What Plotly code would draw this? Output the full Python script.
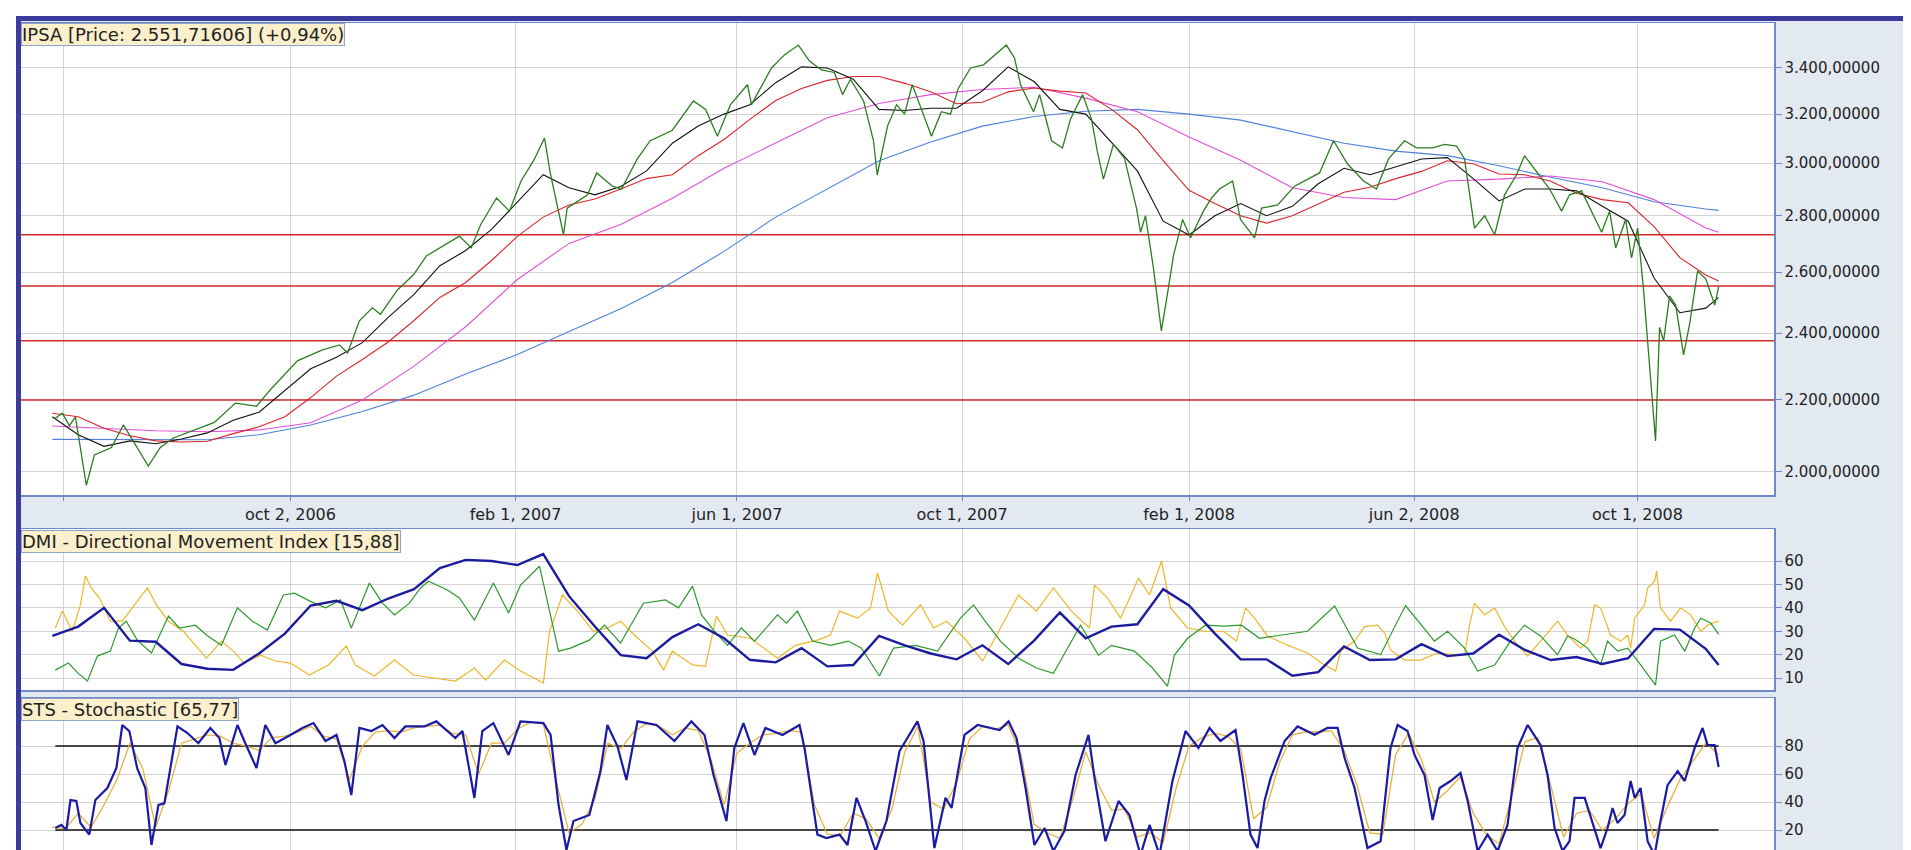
import math
import pandas as pd
import plotly.graph_objects as go

W, H = 1911, 850

# ---------------- data ----------------
start_date = "2006-05-26"          # day 0 of the day-offset arrays
last_date = "2008-11-14"
x_range = ["2006-05-09", "2008-12-14"]

# IPSA close (day offset from start_date, value)
price_day = [1.6, 5.4, 9.2, 12.5, 18.4, 22.8, 32, 38.5, 52, 58.5,
             65.6, 77, 87.8, 99.2, 110.6, 119, 132.8, 146, 155.6, 160,
             166.4, 173.4, 177.8, 187, 195.7, 202.7, 211.4, 220.6, 227, 232,
             240.7, 247.7, 254, 261, 266.7, 270, 277, 279, 290, 295,
             303.5, 308.4, 317, 324, 336, 347.4, 354, 360.4, 367.5, 376.7,
             378.9, 389.7, 396.7, 404.3, 410.3, 416.8, 423.8, 428.2, 432.5, 439.6,
             445, 447, 452.6, 457.5, 461.8, 466, 471, 476.4, 481.8, 486.7,
             491, 497.6, 504.6, 511, 517, 521.4, 524.7, 531.7, 535, 541.5,
             547.4, 551.8, 558.3, 563.1, 566.4, 569.6, 575, 581, 587.5, 589.7,
             592.4, 596.7, 601, 604.3, 607.6, 612.5, 616.8, 623.8, 628.2, 632.5,
             639.6, 643.9, 651.5, 655.3, 664, 673.2, 686.7, 694.3, 701.9, 710.6,
             717.6, 724.1, 732.8, 739.3, 748, 754.5, 761, 765.3, 770.7, 776.2,
             781.6, 787, 793.5, 797.8, 804.9, 811.4, 817.9, 822.2, 828.7, 835.2,
             839.6, 843.9, 847.2, 852.6, 855.8, 859.1, 862.3, 864.5, 866.7, 868.8,
             871, 873.2, 876.4, 879.7, 884, 887.3, 891.6, 896, 900.9, 903]
price_val = [2146, 2160, 2125, 2150, 1965, 2045, 2065, 2127, 2015, 2065,
             2091, 2113, 2134, 2189, 2180, 2233, 2314, 2347, 2363, 2338,
             2439, 2481, 2460, 2540, 2591, 2656, 2691, 2726, 2684, 2766,
             2866, 2817, 2931, 3013, 3101, 2955, 2731, 2828, 2878, 2962,
             2911, 2900, 3017, 3090, 3133, 3256, 3220, 3108, 3240, 3326,
             3240, 3400, 3459, 3504, 3431, 3391, 3380, 3283, 3350, 3256,
             3090, 2954, 3150, 3240, 3200, 3326, 3220, 3108, 3210, 3200,
             3311, 3400, 3414, 3459, 3504, 3445, 3326, 3210, 3283, 3090,
             3061, 3180, 3283, 3180, 3043, 2938, 3075, 3020, 2828, 2740,
             2800, 2614, 2407, 2527, 2659, 2786, 2720, 2817, 2866, 2900,
             2931, 2786, 2720, 2828, 2840, 2911, 2962, 3090, 2997, 2931,
             2900, 3017, 3090, 3061, 3061, 3075, 3068, 3017, 2755, 2800,
             2731, 2878, 2955, 3030, 2962, 2900, 2817, 2878, 2893, 2800,
             2740, 2817, 2684, 2786, 2649, 2755, 2540, 2375, 2215, 2083,
             2418, 2375, 2520, 2490, 2332, 2430, 2604, 2577, 2490, 2551]

# moving averages (every 14 days / every 28 days from start_date, plus last_date)
ma_fast = [2150, 2100, 2068, 2083, 2075, 2088, 2105, 2140, 2163, 2225,
           2290, 2325, 2370, 2450, 2525, 2622, 2675, 2750, 2850, 2955,
           2905, 2878, 2910, 2970, 3080, 3150, 3200, 3240, 3335, 3405,
           3400, 3350, 3220, 3215, 3225, 3225, 3300, 3405, 3340, 3220,
           3200, 3085, 2970, 2780, 2730, 2800, 2845, 2800, 2835, 2920,
           2980, 2955, 2985, 3017, 3022, 2940, 2855, 2900, 2900, 2893,
           2835, 2780, 2580, 2465, 2480, 2515]
ma_mid = [2160, 2150, 2118, 2097, 2083, 2080, 2082, 2103, 2122, 2150,
          2205, 2268, 2318, 2372, 2440, 2515, 2565, 2640, 2725, 2795,
          2840, 2862, 2900, 2940, 2955, 3030, 3095, 3178, 3258, 3310,
          3345, 3362, 3362, 3332, 3295, 3244, 3250, 3295, 3312, 3298,
          3290, 3220, 3135, 3010, 2895, 2845, 2800, 2773, 2800, 2845,
          2888, 2907, 2940, 2968, 3010, 2998, 2958, 2955, 2930, 2884,
          2860, 2848, 2760, 2650, 2590, 2570]
ma_slow = [2124, 2117, 2111, 2108, 2113, 2133, 2198, 2298, 2420, 2575,
           2700, 2768, 2865, 2980, 3080, 3185, 3245, 3283, 3305, 3315,
           3268, 3210, 3105, 3012, 2905, 2868, 2860, 2931, 2938, 2950,
           2928, 2860, 2755, 2740]
ma_long = [2087, 2086, 2085, 2086, 2100, 2127, 2165, 2212, 2274, 2333,
           2405, 2478, 2565, 2672, 2795, 2900, 3010, 3085, 3150, 3190,
           3212, 3220, 3200, 3175, 3128, 3080, 3048, 3030, 2990, 2945,
           2905, 2852, 2825, 2820]

# DMI (ADX every 14 days; +DI / -DI at day offsets)
adx = [28, 32, 40, 26, 25.5, 16, 14, 13.5, 20.5, 29,
       41, 43, 39, 44, 48, 57, 60.5, 60, 58.3, 63,
       45, 32, 19.8, 18.5, 27.5, 33, 27, 17.8, 16.7, 22.8,
       15, 15.6, 28, 24, 20.5, 18, 24, 16, 26, 38,
       27, 32, 33, 48, 41, 29, 18, 18, 11, 12.5,
       23.5, 17.7, 18, 24.5, 19.4, 20.5, 28.5, 22, 17.7, 19,
       16, 18.5, 31, 30.7, 22.5, 15.6]

dip_day = [1.6, 8.7, 14, 19, 24.4, 31.4, 35.8, 40, 46, 53.7,
           62.9, 68.8, 77.5, 83.5, 91.6, 100.3, 108.4, 116.5, 125.2, 131.2,
           139.3, 148, 156.1, 162, 171.8, 178.9, 185.4, 193.5, 199.5, 203.8,
           214.1, 220.6, 228.7, 239, 247.2, 253.7, 264, 270, 274.3, 280.8,
           291, 299.2, 307.9, 320.3, 332.2, 339.3, 346.9, 351.8, 358.8, 365.9,
           373.4, 380.5, 393, 397.8, 403.8, 411.9, 421.7, 431.4, 438.5, 448.2,
           455.8, 467.8, 479.7, 492.1, 499.2, 505.1, 513.8, 523.6, 533.3, 542.5,
           557.2, 566.9, 574, 586.4, 596.2, 604.3, 608.1, 615.2, 624.9, 634.7,
           644.4, 654.2, 665.6, 680.2, 694.9, 707.3, 719.8, 733.3, 749, 756.1,
           765.3, 772.4, 781.6, 790.2, 797.8, 806.5, 815.7, 821.1, 824.9, 832,
           839, 842.8, 848.2, 853.7, 859.1, 868.8, 871.5, 879.1, 884.6, 890,
           893.3, 898.7, 903]
dip_val = [13.4, 16.4, 12, 8.7, 19.4, 21.5, 31.4, 34.3, 26.2, 20.7,
           36.5, 31.4, 32.6, 28.4, 24, 40, 34.3, 30.5, 45.5, 46.3,
           43, 40, 43.4, 31.4, 50.6, 42, 37, 42, 48.5, 51.4,
           47.6, 44.2, 34.8, 50.6, 37.8, 49.7, 57.8, 37, 21.5, 22.8,
           26.2, 32.6, 25, 42, 43.4, 40, 49.3, 37, 30, 24,
           31.4, 25.8, 37, 33.5, 38.6, 25.8, 24, 25.8, 22.8, 10.9,
           22.8, 24, 21.5, 35.6, 41.3, 34.8, 25.8, 18.5, 14.3, 12,
           32.6, 19.8, 24, 21.5, 14.3, 6.6, 19.8, 27, 32.6, 32.2,
           32.6, 27, 28.4, 30, 40.8, 22.8, 20, 41, 25.8, 30,
           22.8, 13, 15.6, 25.8, 32.6, 28, 20, 28, 26.7, 22.8,
           15.6, 25.8, 21.5, 22.8, 17.3, 7, 25.8, 28.4, 21.5, 31.4,
           35.6, 33.5, 28.8]

dim_day = [1.6, 5.4, 10.8, 15.2, 17.9, 21.1, 25.5, 31.4, 37.9, 46,
           51.5, 56.4, 62.9, 71, 83.5, 91.6, 98.1, 104, 112.7, 120.9,
           129, 139.3, 149.6, 159.3, 164.2, 174.5, 185.4, 195.7, 206, 218.4,
           228.7, 234.7, 245, 253.7, 266.1, 269.4, 272.1, 276.4, 284.6, 293.2,
           300.8, 307.9, 315.4, 325.2, 331.2, 336, 346.9, 353.9, 359.9, 365.9,
           378.3, 393, 402.7, 414.6, 421.7, 426.6, 436.3, 443.4, 447.2, 453.1,
           460.7, 470.5, 477.5, 484.6, 494.3, 504.1, 513.8, 523.6, 533.3, 542.5,
           552.3, 562, 564.8, 571.8, 578.9, 588.6, 594.6, 601.1, 606, 615.2,
           624.9, 634.7, 641.7, 646.6, 651.5, 658.5, 669.4, 680.2, 689.4, 695.4,
           698.1, 705.7, 711.1, 718.2, 722, 725.2, 732.8, 741.5, 750.7, 759.9,
           765.3, 768, 770.7, 776.2, 781.6, 787, 792.4, 799.5, 806.5, 815.7,
           821.1, 828.2, 832, 835.8, 839, 844.4, 849.9, 853.7, 855.3, 857.5,
           862.9, 864.5, 868.3, 869.4, 871.5, 876.9, 882.4, 887.8, 893.3, 897,
           902.4, 903]
dim_val = [31.4, 38.6, 30, 41.3, 53.6, 48.5, 44.2, 34.3, 34.3, 43,
           48.5, 41.3, 34.3, 30, 18.5, 25.8, 21.5, 16.4, 19.8, 17.3,
           16.4, 11.3, 15.6, 23.7, 15.6, 10.9, 17.7, 11.3, 10, 8.7,
           14.3, 9.1, 17.7, 13, 7.9, 30, 35.6, 45.5, 38.6, 30,
           31.4, 34.3, 28.4, 21.5, 13.4, 21.5, 15.6, 15, 36.5, 28.4,
           27, 18.5, 24, 26.2, 28.4, 38.6, 35.6, 40, 54.9, 38.6,
           32.6, 41.3, 31.4, 34.3, 27, 17.3, 31.4, 45.5, 38.6, 48.5,
           38.6, 31.4, 49.7, 44.2, 35.6, 52.7, 45.5, 60, 40, 31.4,
           30, 30, 25.8, 40, 35.6, 28, 24, 20.7, 15.6, 13,
           21.5, 25.8, 32, 32.6, 29.2, 22, 17.7, 17.7, 20.7, 20,
           20, 32.6, 42, 37, 40, 32, 25.8, 19.4, 25.8, 34.3,
           28.4, 22.8, 25.8, 41.3, 40, 28.4, 25.8, 28.4, 22.8, 35.6,
           41.3, 48.5, 51.4, 55.7, 40, 34.3, 40, 37, 30, 32.6,
           34.3, 34]

# Stochastic %K at day offsets, %D weekly (every 7 days)
stk_day = [1.6, 4.9, 7.6, 9.8, 13, 15.2, 20, 23.3, 29.8, 34.7,
           37.9, 41.7, 46, 50.4, 53.7, 57.5, 60.7, 65, 67.8, 73.2,
           79.1, 85.6, 90.5, 93.8, 100.3, 104, 110.6, 115.4, 120.9, 129,
           135.5, 141.5, 148, 154, 158.3, 162, 166.4, 172.9, 178.9, 185.4,
           191.3, 201.6, 208.1, 218.4, 222.2, 228.7, 233, 239, 247.2, 253.7,
           266.1, 270, 274.3, 278.6, 282.4, 291, 297, 300.8, 306.2, 311.1,
           317.1, 327.4, 337.1, 346.3, 353.4, 358.3, 365.3, 369.6, 374.5, 380.5,
           386.4, 395.7, 404.9, 407.6, 414.6, 419.5, 426.6, 430.9, 435.8, 440.7,
           446.1, 452, 459.1, 468.8, 472.1, 478, 484, 487.3, 494.3, 501.4,
           513.3, 518.2, 522.5, 527.4, 532.2, 537.7, 542.5, 548.5, 554.5, 561.5,
           564.8, 570.7, 577.8, 583.7, 589.7, 594.6, 600, 607, 614.1, 621.1,
           627.1, 633, 641.2, 645, 649.3, 653.1, 656.9, 660.2, 667.8, 674.8,
           684, 691, 696.5, 700.3, 705.7, 712.7, 719.8, 725.2, 729, 734.4,
           738.2, 743.6, 748, 751.8, 757.7, 763.1, 767, 772.4, 777.8, 783.2,
           788.6, 794, 799.5, 806.5, 810.3, 814.1, 818.4, 822.2, 824.9, 830.4,
           835.8, 839, 842.8, 845.5, 848.2, 852, 855.3, 857.5, 860.7, 864.5,
           868.3, 871.5, 875.3, 880.8, 884.6, 890, 894.3, 897, 900.8, 903]
stk_val = [21.4, 23.6, 20, 41.4, 40.7, 25, 16.7, 41.4, 50, 64.3,
           95, 90.7, 64, 50, 9.3, 38, 39, 73.6, 94, 89.3,
           82, 92.9, 85.7, 66.4, 95, 83.6, 64.3, 95, 82, 87.9,
           92.9, 96.4, 83.6, 87.9, 69, 45, 92.9, 90.7, 95, 85.7,
           94, 94, 97.6, 85.7, 90.7, 42.9, 90.7, 96.4, 73.6, 97.6,
           96.4, 87.9, 38, 5.7, 26.4, 30.7, 61.9, 95, 80, 55.7,
           97.6, 95, 83.6, 97.6, 87.9, 59.3, 26.4, 78.6, 96.4, 73.6,
           92.9, 87.9, 95, 78.6, 16.7, 14.3, 16.7, 9.3, 43, 26.4,
           5, 26.4, 76.4, 97.6, 83.6, 7.1, 43, 35.7, 87.9, 95,
           91.4, 97.6, 85.7, 50, 9.3, 21.4, 5, 19.3, 59.3, 87.9,
           57.1, 12, 40.7, 30.7, 2.1, 23.6, 2, 55, 90.7, 78.6,
           92.9, 83.6, 91.4, 59.3, 16.7, 7.1, 40.7, 57, 83.6, 94,
           88, 92.9, 92.9, 71.4, 50, 7.1, 12, 78.6, 95, 90.7,
           73.6, 59.3, 27.1, 50, 55, 60.7, 40.7, 5, 16.7, 5,
           23.6, 78.6, 95, 80.7, 59.3, 21.4, 5, 12, 43, 43,
           21.4, 7, 21.4, 35.7, 25, 30.7, 55, 43, 50, 12,
           2, 26.4, 52, 62, 55, 78.6, 92.9, 80.7, 80.7, 65]
std_val = [22, 21, 32, 22, 38, 56, 82, 64, 22, 48,
           82, 85, 88, 87, 82, 80, 77, 86, 87, 90,
           94, 87, 85, 56, 80, 90, 91, 90, 93, 94,
           95, 89, 88, 60, 82, 82, 92, 97, 96, 55,
           18, 24, 42, 82, 78, 90, 96, 94, 88, 93,
           91, 70, 38, 75, 82, 88, 89, 91, 90, 38,
           17, 16, 32, 28, 14, 35, 76, 94, 40, 35,
           54, 85, 94, 92, 95, 74, 24, 18, 14, 42,
           76, 52, 34, 35, 15, 18, 11, 50, 80, 86,
           89, 87, 78, 28, 36, 68, 88, 90, 90, 91,
           77, 52, 18, 17, 74, 89, 70, 40, 48, 58,
           32, 17, 10, 45, 83, 86, 52, 15, 32, 34,
           20, 28, 39, 46, 14, 36, 56, 69, 82, 74]

price_levels = [2731, 2553, 2376, 2198]
sts_levels = [80, 20]

date_ticks = ["2006-06-01", "2006-10-02", "2007-02-01", "2007-06-01",
              "2007-10-01", "2008-02-01", "2008-06-02", "2008-10-01"]
date_labels = ["", "oct 2, 2006", "feb 1, 2007", "jun 1, 2007",
               "oct 1, 2007", "feb 1, 2008", "jun 2, 2008", "oct 1, 2008"]
price_ticks = [2000, 2200, 2400, 2600, 2800, 3000, 3200, 3400]
price_labels = ["2.000,00000", "2.200,00000", "2.400,00000", "2.600,00000",
                "2.800,00000", "3.000,00000", "3.200,00000", "3.400,00000"]
dmi_ticks = [10, 20, 30, 40, 50, 60]
sts_ticks = [20, 40, 60, 80]

title_main = "IPSA [Price: 2.551,71606] (+0,94%)"
title_dmi = "DMI - Directional Movement Index [15,88]"
title_sts = "STS - Stochastic [65,77]"

# ---------------- dates ----------------
t0 = pd.Timestamp(start_date)
def days_to_dates(days):
    return list(t0 + pd.to_timedelta(days, unit="D"))

d_price = days_to_dates(price_day)
d_dip = days_to_dates(dip_day)
d_dim = days_to_dates(dim_day)
d_stk = days_to_dates(stk_day)
d_week = list(pd.date_range(start_date, periods=len(std_val), freq="7D"))
d_2w = list(pd.date_range(start_date, periods=len(ma_fast) - 1, freq="14D")) + [pd.Timestamp(last_date)]
d_4w = list(pd.date_range(start_date, periods=len(ma_slow) - 1, freq="28D")) + [pd.Timestamp(last_date)]
d_span = [pd.Timestamp(x_range[0]), pd.Timestamp(x_range[1])]
d_data = [d_price[0], d_price[-1]]

# ---------------- geometry (pixels) ----------------
PX_L, PX_R = 13, 1766
MAIN_T, MAIN_B = 15, 487
DMI_T, DMI_B = 521, 682
STS_T, STS_B = 690, 850

def fy(p):
    return (H - p) / H

xdom = [PX_L / W, PX_R / W]

FONT = "DejaVu Sans"
GRID = "#d3d3d3"
AXLINE = "#7088c8"
TXT = "#222222"

fig = go.Figure()

def add(x, y, color, width, xa, ya):
    fig.add_trace(go.Scatter(x=x, y=y, mode="lines",
                             line=dict(color=color, width=width),
                             xaxis=xa, yaxis=ya, hoverinfo="skip",
                             showlegend=False))

# main panel
for lv in price_levels:
    add(d_span, [lv, lv], "#d12b2b", 1.6, "x", "y")
add(d_4w, ma_long, "#4f80dc", 1.1, "x", "y")
add(d_4w, ma_slow, "#e24fd6", 1.1, "x", "y")
add(d_2w, ma_mid, "#d8252b", 1.1, "x", "y")
add(d_2w, ma_fast, "#111111", 1.1, "x", "y")
add(d_price, price_val, "#2c7d1f", 1.3, "x", "y")

# DMI panel
add(d_dim, dim_val, "#efb628", 1.2, "x2", "y2")
add(d_dip, dip_val, "#2e9a2e", 1.2, "x2", "y2")
add(d_2w, adx, "#1c1c9e", 2.4, "x2", "y2")

# STS panel
for lv in sts_levels:
    add(d_data, [lv, lv], "#111111", 1.4, "x3", "y3")
add(d_week, std_val, "#e8b040", 1.3, "x3", "y3")
add(d_stk, stk_val, "#1a1aa6", 2.2, "x3", "y3")

xcommon = dict(range=x_range, type="date", tickvals=date_ticks, showgrid=True,
               gridcolor=GRID, gridwidth=1, showline=True, mirror=True,
               linecolor=AXLINE, linewidth=1.5, zeroline=False, domain=xdom,
               fixedrange=True)
ycommon = dict(side="right", showgrid=True, gridcolor=GRID, gridwidth=1,
               showline=True, mirror=True, linecolor=AXLINE, linewidth=1.5,
               ticks="outside", ticklen=6, tickcolor=AXLINE, zeroline=False,
               tickfont=dict(family=FONT, size=15, color=TXT), fixedrange=True)

fig.update_layout(
    width=W, height=H, autosize=False,
    margin=dict(l=0, r=0, t=0, b=0, pad=0),
    paper_bgcolor="#e2e9f1", plot_bgcolor="#ffffff",
    showlegend=False,
    xaxis=dict(**xcommon, anchor="y", ticktext=date_labels, ticks="outside",
               ticklen=4, tickcolor=AXLINE,
               tickfont=dict(family=FONT, size=16, color=TXT)),
    xaxis2=dict(**xcommon, anchor="y2", showticklabels=False, matches="x"),
    xaxis3=dict(**xcommon, anchor="y3", showticklabels=False, matches="x"),
    yaxis=dict(**ycommon, anchor="x", type="log",
               range=[math.log10(1940), math.log10(3607)],
               domain=[fy(MAIN_B), fy(MAIN_T)],
               tickvals=price_ticks, ticktext=price_labels),
    yaxis2=dict(**ycommon, anchor="x2", range=[4.9, 73.7],
                domain=[fy(DMI_B), fy(DMI_T)],
                tickvals=dmi_ticks, ticktext=[str(v) for v in dmi_ticks]),
    yaxis3=dict(**ycommon, anchor="x3", range=[0, 114.3],
                domain=[fy(STS_B), fy(STS_T)],
                tickvals=sts_ticks, ticktext=[str(v) for v in sts_ticks]),
)

# frame: white outer margin and dark border
shapes = [
    dict(type="rect", xref="paper", yref="paper", x0=0, x1=8 / W, y0=0, y1=1,
         fillcolor="#ffffff", line=dict(width=0), layer="above"),
    dict(type="rect", xref="paper", yref="paper", x0=0, x1=1, y0=fy(8), y1=1,
         fillcolor="#ffffff", line=dict(width=0), layer="above"),
    dict(type="rect", xref="paper", yref="paper", x0=8 / W, x1=13 / W, y0=0, y1=fy(8),
         fillcolor="#3b3b9e", line=dict(width=0), layer="above"),
    dict(type="rect", xref="paper", yref="paper", x0=8 / W, x1=1, y0=fy(13), y1=fy(8),
         fillcolor="#3b3b9e", line=dict(width=0), layer="above"),
]
fig.update_layout(shapes=shapes)

def title_box(text, top_px):
    return dict(text=text, xref="paper", yref="paper", x=PX_L / W, y=fy(top_px),
                xanchor="left", yanchor="top", showarrow=False,
                font=dict(family=FONT, size=18, color=TXT),
                bgcolor="#fcf0cc", bordercolor="#8fa2cc", borderwidth=1,
                borderpad=0)

fig.update_layout(annotations=[
    title_box(title_main, MAIN_T),
    title_box(title_dmi, DMI_T + 1),
    title_box(title_sts, STS_T),
])

fig.write_html("out.html", config={"displayModeBar": False, "staticPlot": True})
